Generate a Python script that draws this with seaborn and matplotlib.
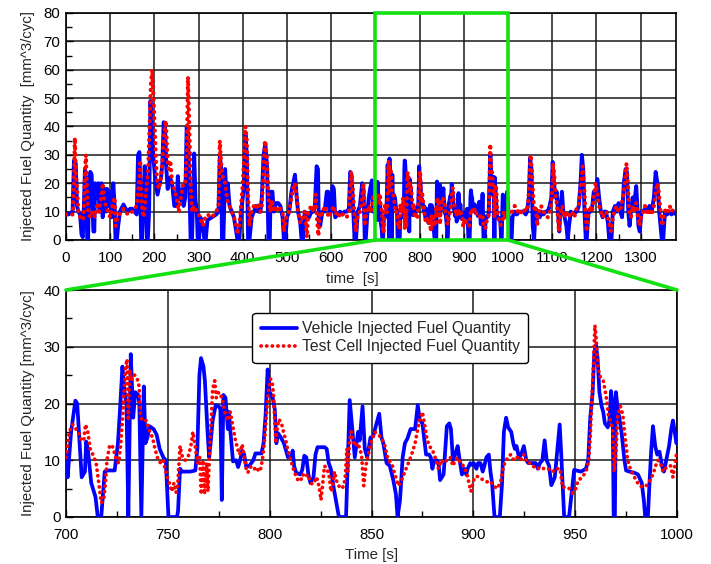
import matplotlib
matplotlib.use("Agg")
import matplotlib.pyplot as plt
import seaborn as sns
from matplotlib.patches import Rectangle, ConnectionPatch
from matplotlib.ticker import MultipleLocator
from matplotlib.lines import Line2D

# ---------------- data: overview (0-700 s) ----------------
veh_t_early = [0, 5, 10, 15, 18, 22, 25, 28, 32, 35,
               38, 40, 43, 46, 48, 50, 52, 55, 58, 60,
               62, 64, 66, 70, 73, 76, 80, 83, 87, 90,
               93, 96, 100, 103, 107, 110, 112, 115, 118, 122,
               125, 130, 135, 140, 145, 150, 155, 160, 163, 166,
               168, 170, 172, 175, 178, 181, 183, 185, 188, 191,
               194, 197, 200, 203, 207, 212, 215, 218, 221, 224,
               227, 230, 235, 240, 245, 250, 253, 256, 260, 263,
               266, 270, 273, 276, 279, 282, 285, 288, 290, 293,
               296, 298, 301, 304, 310, 313, 316, 320, 330, 340,
               345, 348, 351, 353, 356, 360, 363, 366, 370, 375,
               380, 385, 388, 392, 396, 400, 403, 406, 409, 412,
               415, 420, 425, 430, 435, 440, 443, 447, 451, 455,
               458, 461, 463, 467, 470, 475, 480, 485, 490, 493,
               496, 500, 505, 510, 514, 518, 522, 525, 530, 533,
               536, 540, 545, 550, 555, 560, 563, 567, 570, 572,
               575, 580, 585, 590, 593, 596, 600, 603, 606, 609,
               615, 620, 625, 630, 635, 640, 643, 646, 650, 653,
               656, 660, 665, 670, 673, 676, 678, 682, 685, 688,
               692, 695, 698]
veh_v_early = [9, 9, 9.5, 10, 28, 27, 12, 10, 9, 2,
               1, 10, 25, 20, 0, 0, 20, 24, 23, 12,
               3, 3, 20, 15, 20, 10, 20, 8, 18, 10,
               18, 12, 17, 8, 20, 12, 0, 0, 5, 10,
               11, 12.5, 11, 10, 11, 11, 10, 9, 30, 31,
               20, 0, 0, 12, 26, 20, 0, 0, 10, 49,
               40, 30, 25, 20, 16, 20, 22, 27, 41.5, 40,
               25, 18, 22, 20, 12, 12, 22.5, 15, 14, 18,
               12, 15, 40, 38, 20, 0, 0, 17, 30.5, 14,
               10, 0, 0, 8, 5, 0, 0, 7, 8, 9,
               10, 30, 25, 0, 0, 25, 15, 20, 12, 10,
               8, 3, 0, 0, 10, 15, 20, 37, 30, 0,
               0, 8, 10, 12, 10, 10, 15, 30, 34, 25,
               0, 0, 17, 17, 10, 13, 13, 12, 8, 0,
               0, 8, 10, 17, 20, 23, 15, 10, 6, 0,
               0, 10, 9, 8, 10, 10, 12, 26, 25, 5,
               5, 10, 10, 17, 17, 10, 10, 19, 18, 8,
               9, 10, 9, 10, 10, 11, 24, 23, 10, 0,
               0, 10, 12, 20, 18, 0, 0, 10, 15, 18,
               21, 10, 10]

cell_t_early = [0, 5, 10, 15, 18, 20, 22, 25, 28, 32,
                35, 40, 43, 45, 47, 50, 55, 60, 65, 70,
                75, 80, 83, 86, 90, 95, 100, 105, 110, 112,
                115, 120, 125, 130, 140, 150, 155, 160, 165, 168,
                170, 173, 176, 180, 183, 186, 189, 192, 195, 198,
                200, 203, 206, 210, 215, 219, 222, 226, 229, 232,
                236, 240, 245, 250, 255, 260, 265, 270, 273, 276,
                279, 282, 285, 290, 295, 300, 305, 310, 315, 320,
                330, 340, 345, 348, 351, 355, 360, 365, 370, 375,
                380, 385, 388, 392, 396, 400, 403, 406, 409, 412,
                415, 420, 425, 430, 435, 440, 443, 447, 450, 454,
                458, 462, 466, 470, 475, 480, 485, 490, 493, 496,
                500, 505, 510, 514, 518, 522, 525, 530, 535, 540,
                545, 548, 555, 560, 565, 568, 571, 575, 580, 585,
                590, 595, 600, 605, 610, 615, 620, 625, 630, 635,
                640, 645, 648, 652, 656, 660, 665, 670, 673, 676,
                680, 685, 690, 695, 698]
cell_v_early = [9, 9, 9, 9, 20, 36, 25, 18, 10, 8,
                7, 8, 25, 30, 20, 10, 8, 10, 8, 12,
                10, 15, 20, 15, 12, 10, 8, 12, 15, 5,
                7, 9, 10, 11, 9, 10, 11, 12, 20, 28,
                15, 10, 8, 15, 20, 25, 40, 55, 60, 50,
                42, 30, 20, 18, 22, 30, 38, 42, 30, 25,
                28, 20, 18, 15, 10, 15, 20, 20, 30, 57.5,
                40, 20, 10, 12, 10, 9, 7, 5, 8, 9,
                8, 10, 12, 35, 27, 22, 20, 14, 12, 10,
                8, 5, 2, 5, 12, 20, 30, 40, 35, 15,
                5, 10, 12, 11, 13, 10, 12, 25, 35, 30,
                15, 10, 14, 10, 12, 10, 11, 10, 3, 6,
                9, 10, 15, 18, 20, 15, 10, 6, 8, 10,
                1, 10, 12, 10, 16, 7, 1.5, 10, 9, 12,
                10, 8, 10, 12, 9, 10, 8, 9, 9, 8,
                10, 24, 20, 10, 3, 9, 10, 15, 20, 5,
                10, 12, 10, 15, 12]

# ---------------- data: zoomed window (700-1000 s) ----------------
veh_t_zoom = [700, 700.8, 702.5, 704.6, 705.5, 707.7, 709.3, 709.9, 710.7, 712.4,
              714.5, 715.6, 717.3, 719, 720.6, 723.9, 725.5, 726.7, 727.7, 728.8,
              729.7, 730.6, 731.8, 733, 734, 735.5, 736, 737, 738.2, 739,
              740, 741, 743, 744.5, 746, 747.8, 749, 750.3, 754.5, 755,
              756, 757, 761, 763.5, 764.5, 765.5, 766.3, 767.5, 768.2, 769.5,
              770.3, 771, 772, 773.5, 775, 775.8, 776.5, 777.3, 778.3, 779.5,
              780, 780.5, 782, 783.5, 784.5, 785.5, 786.5, 787.5, 788.5, 790,
              792, 793, 796, 797, 798, 799, 800, 801.5, 802.5, 803.3,
              804, 805.5, 807, 809, 810.5, 811.3, 812, 813, 815, 816,
              817, 818, 819, 820, 821.5, 822.5, 823.5, 827, 828, 829,
              830, 831.5, 833, 834, 837.5, 839.3, 841.8, 843.4, 844.2, 845.6,
              846.7, 847.9, 849.5, 850.8, 852.1, 853.8, 854.9, 855.8, 857.4, 859,
              860.7, 862, 862.8, 864, 865.3, 866.4, 867.6, 869.2, 871.4, 872.7,
              873.8, 875, 875.8, 876.8, 878.3, 879.1, 879.9, 880.8, 882.1, 882.9,
              883.7, 885.4, 887, 888.2, 889, 890, 891.1, 892.3, 893.3, 894.4,
              895.6, 896.5, 897.2, 898.5, 899.3, 900.2, 901.5, 902.3, 903.5, 904.6,
              905.4, 906.4, 907.6, 908.4, 909.2, 910.4, 913, 914.1, 915, 916.1,
              917.1, 918.6, 919.6, 920.4, 921.2, 922.4, 923.5, 924.8, 926, 927,
              929, 930.6, 931.7, 932.7, 933.9, 935, 936, 937.2, 938.3, 940,
              941.3, 942.4, 943.3, 944.6, 947, 948.2, 949.5, 952.8, 955.3, 956.4,
              957.4, 958.6, 959.4, 960.2, 961, 961.9, 963, 963.8, 964.6, 966,
              966.8, 967.6, 968.4, 968.9, 969.5, 970, 970.9, 971.7, 972.9, 974.2,
              975, 976.6, 979.1, 980.8, 982.7, 983.7, 984.4, 985.7, 986.5, 987.3,
              988.2, 989.3, 990.3, 991.4, 992.6, 993.6, 994.7, 996.1, 997.2, 998,
              998.9, 999.7, 1000]
veh_v_zoom = [11, 7, 15, 20.5, 20, 7, 8, 13.3, 12, 6,
              3.5, 0, 0, 8, 8.2, 8.2, 13, 20, 26.5, 22,
              20, 0, 28.7, 17.5, 22, 21.5, 20, 0, 23, 13,
              14, 16, 15.5, 14.5, 12, 10.5, 10, 0, 0, 1,
              8.5, 8, 8, 8.2, 12, 25, 28, 26.5, 24, 15,
              10.5, 13, 17, 19.7, 19.5, 19, 3, 21.5, 21, 15.5,
              18.5, 16, 9.8, 10, 8.8, 10, 11.7, 11, 8.8, 9,
              10, 11.2, 11.2, 13, 18, 26, 22, 21, 19, 13,
              14.8, 14, 13, 10.5, 10.5, 11.7, 9, 7.8, 7.5, 8.3,
              10.8, 10.5, 7.5, 6, 7, 11, 12.3, 12.3, 12, 9.5,
              8.5, 5, 2, 0, 0, 20.6, 10.5, 15, 13.5, 19.5,
              12, 10.5, 14, 14.2, 16, 18.2, 14, 13, 9.5, 9,
              6.5, 4, 0, 3, 10.5, 13, 13.8, 15.5, 15.5, 19.7,
              17, 16.5, 14, 11, 11, 10.5, 8.5, 10, 10, 9.5,
              6.5, 7.5, 16, 16.5, 15.5, 10, 11, 12.5, 10, 7.5,
              8.5, 7.5, 8.5, 9.5, 9.2, 9.5, 8.5, 9.5, 9.5, 8,
              9, 10.5, 11, 8, 6, 0, 0, 6, 15, 17.5,
              15.8, 15, 13, 12, 12.5, 10.5, 11, 12.5, 10, 9.5,
              9.5, 9.5, 8.5, 9.5, 10, 13.5, 10, 9, 5.6, 7,
              12, 16.3, 10, 0, 0, 4, 8.3, 8, 8.5, 10,
              17.5, 22, 29, 30.3, 28, 22, 19.5, 18.5, 16.5, 15.8,
              17, 22.2, 20, 0, 0, 22, 19, 17.5, 14.5, 10,
              8.2, 8, 7.8, 7.5, 6, 3, 0, 0, 6, 11.5,
              16, 12.5, 11, 11.5, 9, 8, 10, 12.5, 15.5, 17,
              15, 13, 13.2]

cell_t_zoom = [700, 701.6, 703.3, 704.9, 706.1, 707.4, 708.7, 709.6, 710.7, 711.9,
               713.2, 714.8, 716.1, 717.3, 718.5, 719.4, 720.1, 721.4, 722.6, 723.6,
               724.7, 725.9, 726.9, 727.7, 728.5, 729.3, 730, 730.6, 731.3, 732,
               733, 733.8, 735.1, 735.9, 736.6, 737.4, 739.5, 741.2, 742.5, 743.7,
               745.3, 746.5, 747.8, 748.6, 749.8, 750.7, 751.9, 753, 754, 754.9,
               756, 757.2, 758.5, 760.1, 761.3, 762.3, 763.4, 764.6, 765.6, 766.4,
               767.2, 768, 768.9, 769.7, 770.8, 772, 773, 773.8, 775, 776.6,
               778.3, 779.4, 780.7, 781.9, 783.2, 784.3, 785.3, 786.5, 787.6, 788.5,
               789.3, 790.3, 791.4, 792.6, 793.6, 794.7, 795.6, 796.4, 797.2, 798,
               798.8, 799.7, 800.5, 801.3, 801.8, 802.5, 803, 803.8, 804.6, 805.8,
               806.8, 807.9, 809.1, 810.4, 811.2, 812, 813.2, 814.2, 815.3, 816.2,
               817.5, 818.6, 819.8, 820.8, 821.9, 822.7, 823.6, 824.4, 825.2, 826.1,
               826.9, 828.2, 829.3, 830.1, 831, 831.8, 833.1, 834.3, 835.4, 836.4,
               837.1, 837.9, 838.4, 839.2, 840.1, 841, 841.8, 843.4, 845.1, 846.2,
               847.2, 848.4, 850, 851.6, 853.3, 854.9, 856.6, 858.2, 859.9, 861.5,
               863.2, 864.8, 866.4, 868.1, 869.7, 871.4, 872.7, 873.8, 875, 876,
               877.1, 878.3, 879.6, 880.8, 882.1, 882.9, 884.2, 885.4, 887, 888.7,
               890, 891.1, 892.3, 893.6, 895.2, 896.9, 898.2, 898.8, 900.2, 901.5,
               903.1, 904.8, 906.7, 908.4, 910, 911.7, 913.3, 914.6, 915.8, 916.9,
               918.3, 919.9, 921.5, 923.2, 924.8, 926.5, 928.1, 929.8, 931.4, 933.1,
               934.7, 936.3, 938, 939.6, 941.3, 942.6, 943.8, 945.4, 947.1, 948.7,
               950.3, 951.5, 952.8, 954.4, 955.8, 956.6, 957.4, 958.2, 959.1, 959.7,
               960.4, 961, 961.9, 962.7, 963.8, 965.1, 966.3, 967.3, 968.4, 969.2,
               970.1, 970.9, 972.2, 973.4, 974.2, 975, 975.8, 977.1, 978.3, 979.9,
               981.6, 983.2, 984.9, 986.5, 988.2, 989.5, 990.6, 991.9, 993.1, 994.2,
               995.6, 996.9, 998, 998.9, 999.7, 1000]
cell_v_zoom = [10.5, 15, 16.3, 15.5, 15, 13.5, 13.5, 16.3, 15, 12,
               11, 9.5, 6, 2.5, 3, 6, 10, 12.5, 12.7, 11.5,
               10, 9.5, 13, 17, 22, 26.5, 27.8, 17, 26, 24,
               25, 25, 24.2, 23, 18, 17, 17, 15, 14, 12,
               10, 9.5, 10, 8.5, 7, 6, 4.5, 6, 4.3, 6,
               12.5, 10.5, 10, 10.8, 12.5, 15, 12.5, 9.5, 10.5, 4,
               10, 4, 9.5, 4.5, 13.5, 22.5, 24, 21, 22, 21,
               18, 17, 18.5, 16, 13.5, 12, 11, 12.8, 10.5, 8.5,
               7.8, 8.7, 9, 8.5, 8.8, 8, 8.5, 10, 12.5, 16,
               20, 23, 24.3, 23.5, 22, 17, 13, 16, 17.2, 16.5,
               15, 13.5, 11.5, 10, 9, 8, 7, 6.3, 6.5, 7.5,
               7, 7.5, 6.5, 5.8, 6, 7, 6.5, 5, 3, 6,
               9, 8.5, 7, 4.5, 5.5, 8, 6, 5.3, 5, 5.5,
               7, 12, 8, 13.5, 15, 13.5, 12.5, 13, 11, 5.5,
               9, 11, 13.5, 15, 14.5, 14, 12.5, 10, 9.5, 7.5,
               5.5, 6.5, 8, 9.5, 11, 13, 15.5, 17.3, 18.5, 16.5,
               14, 12.5, 12, 11, 9.5, 8.5, 10, 9.5, 10, 10.5,
               9, 10, 10.5, 9.5, 9, 7.5, 5.5, 4.5, 6.5, 7.2,
               7, 6.5, 6.2, 6.3, 5.5, 5, 6, 8.5, 10, 10.3,
               11, 10, 10.5, 10, 11, 9.5, 9.5, 8.8, 8.5, 8.8,
               8.5, 8.3, 8.5, 8, 8.5, 8.5, 5.2, 5.3, 5, 4.2,
               5, 6.5, 6.8, 7.5, 8.5, 10, 14, 21, 28, 33.8,
               31, 27, 25, 24.5, 24, 21.5, 18, 17, 15.5, 8,
               12, 18, 19.5, 18, 15, 12.5, 10, 8.5, 7.5, 6.5,
               5.5, 5.3, 5.5, 6.3, 7.5, 9, 10, 9.5, 8, 8.5,
               9, 9, 7, 9, 11, 11]

# ---------------- data: overview (1000-1380 s) ----------------
veh_t_late = [1002, 1005, 1008, 1010, 1015, 1020, 1025, 1030, 1035, 1040,
              1043, 1047, 1050, 1053, 1056, 1059, 1062, 1065, 1068, 1072,
              1075, 1080, 1085, 1090, 1094, 1098, 1101, 1104, 1107, 1110,
              1113, 1116, 1118, 1122, 1125, 1128, 1132, 1135, 1138, 1142,
              1148, 1152, 1156, 1160, 1164, 1167, 1170, 1173, 1176, 1178,
              1182, 1186, 1190, 1194, 1198, 1202, 1206, 1210, 1214, 1218,
              1222, 1226, 1229, 1234, 1237, 1242, 1246, 1250, 1254, 1258,
              1262, 1266, 1269, 1272, 1275, 1278, 1282, 1285, 1290, 1295,
              1298, 1302, 1306, 1310, 1315, 1320, 1325, 1330, 1334, 1338,
              1342, 1345, 1348, 1351, 1355, 1360, 1365, 1370, 1375, 1380]
veh_v_late = [5, 0, 0, 8, 10, 9, 10, 10, 10, 9,
              10, 15, 29, 25, 5, 0, 10, 7, 10, 8,
              10, 9, 10, 10, 12, 15, 27.5, 20, 15, 17,
              10, 3, 10, 17, 10, 8, 5, 0, 5, 10,
              9, 10, 10, 12, 20, 30, 25, 10, 0, 0,
              10, 10, 11, 17, 15, 21.5, 15, 10, 8, 10,
              10, 6, 0, 0, 10, 12, 10, 13, 10, 8,
              20, 25, 24, 10, 5, 10, 15, 12, 19, 5,
              3, 10, 10, 11, 10, 12, 10, 15, 24, 20,
              10, 5, 0, 0, 10, 9, 10, 9, 10, 9]

cell_t_late = [1005, 1010, 1015, 1020, 1025, 1030, 1035, 1040, 1045, 1048,
               1051, 1054, 1057, 1060, 1063, 1066, 1070, 1075, 1080, 1085,
               1090, 1095, 1099, 1102, 1105, 1108, 1111, 1115, 1119, 1123,
               1127, 1131, 1135, 1140, 1145, 1150, 1155, 1160, 1165, 1169,
               1172, 1175, 1178, 1182, 1186, 1190, 1194, 1198, 1202, 1206,
               1210, 1214, 1218, 1222, 1226, 1230, 1233, 1237, 1241, 1245,
               1250, 1255, 1260, 1264, 1268, 1271, 1274, 1278, 1282, 1286,
               1290, 1294, 1298, 1302, 1306, 1310, 1315, 1320, 1325, 1330,
               1335, 1338, 1341, 1345, 1349, 1353, 1357, 1362, 1366, 1370,
               1375, 1380]
cell_v_late = [9, 10, 12, 11, 9, 10, 11, 10, 12, 20,
               30, 24, 15, 10, 12, 5, 10, 12, 10, 9,
               8, 10, 15, 27, 22, 15, 12, 3, 10, 12,
               8, 10, 8, 9, 10, 8, 11, 12, 20, 26,
               20, 10, 3, 9, 12, 10, 15, 20, 17, 12,
               10, 8, 9, 10, 8, 5, 3, 8, 10, 12,
               10, 11, 15, 20, 27, 20, 10, 8, 12, 10,
               13, 8, 5, 9, 10, 12, 9, 10, 9, 12,
               18, 20, 17, 10, 5, 9, 11, 10, 12, 10,
               11, 10]

veh_label = "Vehicle Injected Fuel Quantity"
cell_label = "Test Cell Injected Fuel Quantity"
top_xticks = list(range(0, 1400, 100))
top_yticks = list(range(0, 90, 10))
bot_xticks = list(range(700, 1050, 50))
bot_yticks = list(range(0, 50, 10))

# ---------------- style ----------------
sns.set_style("white")
plt.rcParams['font.family'] = ['Liberation Sans', 'DejaVu Sans']
BLUE = '#0000ff'
RED = '#ff0000'
GREEN = '#11e011'
FS = 10.8
DOTS = (0, (0.05, 1.45))

fig = plt.figure(figsize=(7.11, 5.64), dpi=100)
ax1 = fig.add_axes([66/711, 1-240/564, 610/711, 227/564])
ax2 = fig.add_axes([66/711, 1-517/564, 611/711, 227/564])

veh_top_t = veh_t_early + veh_t_zoom + veh_t_late
veh_top_v = veh_v_early + veh_v_zoom + veh_v_late
cell_top_t = cell_t_early + cell_t_zoom + cell_t_late
cell_top_v = cell_v_early + cell_v_zoom + cell_v_late

sns.lineplot(x=veh_top_t, y=veh_top_v, ax=ax1, color=BLUE, linewidth=2.8,
             estimator=None, sort=False, zorder=3)
sns.lineplot(x=cell_top_t, y=cell_top_v, ax=ax1, color=RED, linewidth=3.0,
             estimator=None, sort=False, zorder=4)
ax1.lines[-1].set_linestyle(DOTS)
ax1.lines[-1].set_dash_capstyle('round')

sns.lineplot(x=veh_t_zoom, y=veh_v_zoom, ax=ax2, color=BLUE, linewidth=2.7,
             estimator=None, sort=False, zorder=3)
sns.lineplot(x=cell_t_zoom, y=cell_v_zoom, ax=ax2, color=RED, linewidth=2.7,
             estimator=None, sort=False, zorder=4)
ax2.lines[-1].set_linestyle(DOTS)
ax2.lines[-1].set_dash_capstyle('round')

for ax in (ax1, ax2):
    ax.grid(True, which='major', color='#1a1a1a', linewidth=1.1)
    ax.set_axisbelow(True)
    for s in ax.spines.values():
        s.set_color('black')
        s.set_linewidth(1.2)
    ax.tick_params(which='both', direction='in', labelsize=FS, colors='black',
                   bottom=True, left=True, top=False, right=False)
    ax.tick_params(which='major', length=5, width=1)
    ax.tick_params(which='minor', length=4, width=1)
    ax.tick_params(axis='x', pad=8)
    ax.tick_params(axis='y', pad=4)

ax1.set_xlim(0, 1380)
ax1.set_ylim(0, 80)
ax1.set_xticks(top_xticks)
ax1.set_yticks(top_yticks)
ax1.xaxis.set_minor_locator(MultipleLocator(50))
ax1.yaxis.set_minor_locator(MultipleLocator(5))
ax1.set_xlabel("time  [s]", fontsize=FS)
ax1.set_ylabel("Injected Fuel Quantity  [mm^3/cyc]", fontsize=FS, labelpad=6)
ax1.xaxis.set_label_coords(0.47, -0.14)

ax2.set_xlim(700, 1000)
ax2.set_ylim(0, 40)
ax2.set_xticks(bot_xticks)
ax2.set_yticks(bot_yticks)
ax2.xaxis.set_minor_locator(MultipleLocator(25))
ax2.yaxis.set_minor_locator(MultipleLocator(5))
ax2.set_xlabel("Time [s]", fontsize=FS, labelpad=4)
ax2.set_ylabel("Injected Fuel Quantity [mm^3/cyc]", fontsize=FS, labelpad=6)

handles = [Line2D([], [], color=BLUE, lw=2.7),
           Line2D([], [], color=RED, lw=2.7, linestyle=DOTS,
                  dash_capstyle='round')]
leg = ax2.legend(handles, [veh_label, cell_label], loc='upper center',
                 bbox_to_anchor=(0.531, 0.90), fontsize=11.3, frameon=True,
                 fancybox=True, edgecolor='black', framealpha=1,
                 handlelength=2.3, borderpad=0.55, labelspacing=0.2,
                 handletextpad=0.3, borderaxespad=0)
leg.get_frame().set_linewidth(1.0)

# green zoom indicator
rect = Rectangle((700, 0), 300, 80, fill=False, edgecolor=GREEN, linewidth=2.6,
                 clip_on=False, zorder=6)
ax1.add_patch(rect)
for xv in (700, 1000):
    con = ConnectionPatch(xyA=(xv, 0), coordsA=ax1.transData,
                          xyB=(xv, 40), coordsB=ax2.transData,
                          color=GREEN, linewidth=2.6, zorder=6)
    fig.add_artist(con)

fig.savefig("out.png", dpi=100)
